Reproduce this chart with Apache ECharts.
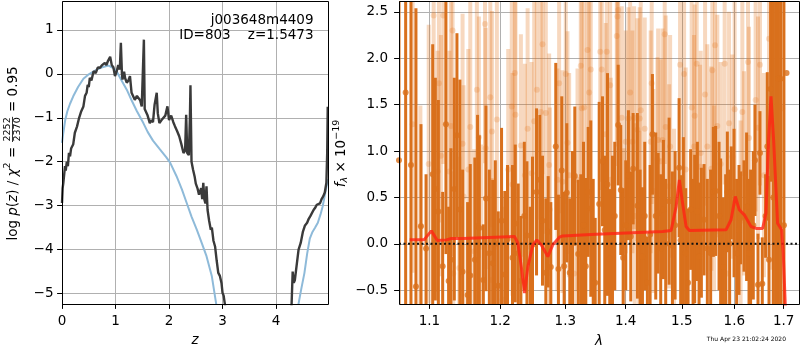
<!DOCTYPE html>
<html>
<head>
<meta charset="utf-8">
<script src="https://cdn.jsdelivr.net/npm/echarts@6.0.0/dist/echarts.min.js"></script>
<style>
html,body{margin:0;padding:0;background:#fff;}
#chart{width:800px;height:350px;}
</style>
</head>
<body>
<div id="chart"></div>
<script>
// ---------- left panel: log p(z) ----------
const pzZ = [0.000,0.012,0.025,0.04,0.056,0.07,0.09,0.11,0.13,0.15,
0.17,0.21,0.24,0.28,0.32,0.36,0.40,0.43,0.46,0.48,
0.50,0.52,0.55,0.59,0.63,0.67,0.71,0.75,0.80,0.83,
0.86,0.90,0.93,0.96,0.99,1.02,1.05,1.08,1.10,1.12,
1.13,1.16,1.18,1.21,1.24,1.27,1.30,1.33,1.36,1.40,
1.43,1.46,1.49,1.52,1.53,1.545,1.56,1.60,1.64,1.67,
1.70,1.73,1.77,1.79,1.82,1.86,1.89,1.93,1.97,2.00,
2.04,2.08,2.11,2.15,2.19,2.23,2.27,2.30,2.32,2.34,
2.37,2.39,2.40,2.42,2.45,2.48,2.50,2.53,2.56,2.58,
2.60,2.62,2.64,2.66,2.68,2.70,2.72,2.75,2.78,2.80,
2.83,2.86,2.89,2.92,2.95,2.98,3.00,3.02,3.05,3.08,
3.15,4.20,4.29,4.31,4.33,4.35,4.38,4.42,4.46,4.50,
4.54,4.58,4.61,4.64,4.67,4.70,4.73,4.76,4.79,4.82,
4.85,4.88,4.91,4.94,4.955,4.965];
const pzLogP = [-2.94,-2.6,-2.48,-2.3,-2.1,-2.2,-2.0,-2.1,-1.8,-1.88,
-1.7,-1.6,-1.34,-1.2,-1.0,-0.85,-0.74,-0.5,-0.43,-0.25,
-0.3,-0.09,-0.15,0.06,0.02,0.15,0.14,0.2,0.25,0.2,
0.3,0.39,0.2,0.15,-0.05,0.05,0.2,0.1,0.71,0.0,
-0.13,0.05,-0.1,-0.2,-0.15,-0.05,-0.43,-0.4,-0.59,-0.5,
-0.51,-0.6,-0.74,-0.7,0.78,-0.8,-0.81,-0.95,-1.12,-1.05,
-1.1,-0.7,-0.43,-0.9,-1.12,-1.05,-1.05,-0.95,-0.74,-1.05,
-0.95,-1.1,-1.19,-1.3,-1.42,-1.6,-1.8,-1.75,-0.93,-1.8,
-1.85,-1.0,-0.26,-2.0,-2.19,-2.35,-2.5,-2.6,-2.75,-2.79,
-2.6,-2.85,-2.48,-2.86,-2.95,-2.56,-3.1,-3.35,-3.55,-3.5,
-3.8,-3.93,-4.25,-4.53,-4.6,-4.76,-4.99,-5.05,-5.3,-5.8,
-6.6,-6.6,-5.24,-4.5,-4.76,-4.7,-4.4,-4.0,-3.85,-3.6,
-3.45,-3.39,-3.3,-3.24,-3.2,-3.1,-3.05,-2.98,-2.94,-2.95,
-2.85,-2.79,-2.7,-2.48,-1.8,-0.75];
const chiZ = [0.00,0.025,0.06,0.10,0.15,0.21,0.30,0.40,0.50,0.65,
0.75,0.87,0.95,1.02,1.10,1.21,1.30,1.40,1.52,1.60,
1.70,1.83,1.95,2.02,2.14,2.24,2.33,2.42,2.52,2.61,
2.70,2.80,2.88,2.95,3.05,4.30,4.42,4.47,4.53,4.58,
4.63,4.68,4.73,4.78,4.83,4.87,4.92,4.97];
const chiLogP = [-1.57,-1.34,-1.05,-0.85,-0.68,-0.51,-0.3,-0.11,-0.01,0.1,
0.15,0.19,0.14,0.06,-0.12,-0.36,-0.6,-0.85,-1.12,-1.32,
-1.52,-1.72,-1.9,-2.02,-2.33,-2.63,-2.94,-3.25,-3.55,-3.85,
-4.15,-4.61,-5.23,-5.8,-6.6,-6.6,-5.23,-4.9,-4.53,-4.1,
-3.75,-3.6,-3.5,-3.39,-3.2,-3.02,-2.7,-2.4];
const zTicks = [0,1,2,3,4];
const logpTicks = [-5,-4,-3,-2,-1,0,1];

// ---------- right panel: spectrum ----------
const spec1Lam = [1.0597,1.0684,1.0754,1.0820,1.0887,1.0955,1.1045,1.1081,1.1122,1.1181,
1.1226,1.1263,1.1295,1.1342,1.1379,1.1420,1.1458,1.1529,1.1567,1.1632,
1.1671,1.1696,1.1754,1.1792,1.1841,1.1889,1.1928,1.1971,1.2020,1.2068,
1.2108,1.2183,1.2224,1.2269,1.2309,1.2361,1.2401,1.2451,1.2486,1.2548,
1.2599,1.2640,1.2692,1.2729,1.2770,1.2848,1.2890,1.2943,1.2981,1.3023,
1.3071,1.3115,1.3152,1.3207,1.3249,1.3293,1.3331,1.3370,1.3413,1.3453,
1.3486,1.3552,1.3607,1.3645,1.3691,1.3729,1.3775,1.3814,1.3872,1.3916,
1.3957,1.4002,1.4048,1.4088,1.4129,1.4204,1.4251,1.4292,1.4332,1.4379,
1.4427,1.4468,1.4527,1.4570,1.4616,1.4665,1.4706,1.4768,1.4828,1.4877,
1.4950,1.4979,1.5029,1.5072,1.5116,1.5164,1.5209,1.5239,1.5290,1.5321,
1.5365,1.5416,1.5478,1.5541,1.5593,1.5637,1.5702,1.5733,1.5786,1.5830,
1.5863,1.5908,1.5941,1.5994,1.6045,1.6092,1.6124,1.6192,1.6243,1.6291,
1.6323,1.6377,1.6411,1.6472,1.6512,1.6559,1.6626,1.6661,1.6696,1.6729,
1.6784,1.6832,1.6887,1.6935,1.7005,1.7060];
const spec1Flux = [0.90,1.63,0.85,-0.46,0.19,-0.05,0.75,0.59,0.35,-0.24,
1.29,-0.40,-0.17,0.59,1.17,0.37,-0.30,-0.55,-0.34,-0.17,
0.19,0.17,-0.39,0.49,-0.10,-0.21,0.00,-0.45,0.25,-0.33,
0.05,-0.15,0.22,-0.10,-0.40,0.30,0.09,-0.20,-0.01,0.56,
0.69,0.25,-0.31,0.13,-0.25,1.05,-0.27,0.79,-0.24,0.55,
-0.31,0.10,0.73,-0.11,0.05,0.20,-0.24,0.56,0.38,0.00,
-0.42,0.43,0.89,0.15,0.64,-0.16,0.05,0.30,1.28,0.58,
-0.15,0.20,0.74,0.08,0.81,0.41,0.00,-0.14,0.30,-0.42,
0.10,1.18,0.30,0.33,-0.05,0.37,0.00,0.46,-0.02,0.20,
0.82,0.04,0.25,-0.10,-0.42,0.37,0.00,0.16,0.35,-0.14,
0.12,0.26,-0.05,-0.10,0.56,0.57,0.30,0.12,-0.25,-0.05,
0.56,0.00,0.55,0.44,-0.10,0.15,0.28,0.30,0.40,-0.10,
0.00,0.20,0.90,-0.44,0.98,-0.43,0.30,1.05,-0.17,1.67,
0.50,0.78,1.78,1.78,0.20,1.84];
const spec1Err = [3.0,2.5,2.5,3.0,1.1,0.8,1.4,1.2,1.2,0.8,
1.4,0.8,1.2,1.2,1.1,1.4,1.1,1.0,1.2,1.1,
1.2,1.0,0.6,1.0,0.9,0.9,0.9,0.8,1.0,0.9,
0.8,1.0,0.85,0.75,0.7,0.8,0.8,0.6,0.95,0.9,
0.7,0.7,0.8,0.6,0.7,0.9,0.8,0.8,0.8,0.75,
0.8,0.9,0.75,0.8,0.7,0.9,0.95,0.7,0.95,0.7,
0.7,1.1,0.7,0.8,1.2,0.75,0.9,0.8,0.65,0.7,
0.75,0.7,0.7,0.7,0.6,1.0,0.8,0.75,0.8,0.5,
0.75,0.65,0.9,0.65,0.8,0.75,0.7,0.9,0.8,0.8,
0.75,0.7,0.9,0.7,0.8,0.65,0.7,0.8,0.75,0.8,
0.7,0.6,0.75,0.9,0.7,0.7,0.8,0.8,0.75,0.8,
0.65,0.8,0.5,0.8,0.8,0.7,0.5,0.6,0.8,0.8,
0.8,0.8,0.6,0.55,0.45,0.5,0.45,0.8,0.9,1.0,
2.5,2.5,2.5,2.5,2.8,0.0];

const spec2Lam = [1.0776,1.0879,1.0991,1.1058,1.1112,1.1130,1.1157,1.1190,1.1273,1.1295,
1.1318,1.1328,1.1411,1.1458,1.1472,1.1539,1.1567,1.1623,1.1661,1.1690,
1.1720,1.1778,1.1788,1.1855,1.1874,1.1879,1.1951,1.2035,1.2119,1.2172,
1.2183,1.2218,1.2228,1.2309,1.2370,1.2411,1.2471,1.2512,1.2553,1.2614,
1.2640,1.2692,1.2744,1.2754,1.2874,1.2901,1.2954,1.3007,1.3034,1.3061,
1.3141,1.3196,1.3249,1.3261,1.3266,1.3305,1.3359,1.3386,1.3413,1.3569,
1.3595,1.3662,1.3679,1.3736,1.3746,1.3848,1.3860,1.3872,1.3933,1.3974,
1.4002,1.4048,1.4077,1.4117,1.4146,1.4157,1.4204,1.4234,1.4244,1.4262,
1.4332,1.4437,1.4455,1.4484,1.4557,1.4570,1.4616,1.4647,1.4688,1.4706,
1.4768,1.4786,1.4858,1.4968,1.5042,1.5072,1.5183,1.5227,1.5239,1.5277,
1.5340,1.5352,1.5435,1.5478,1.5554,1.5573,1.5606,1.5625,1.5669,1.5733,
1.5811,1.5863,1.5896,1.5961,1.6006,1.6124,1.6158,1.6192,1.6271,1.6291,
1.6424,1.6472,1.6512,1.6593,1.6696,1.6763,1.6887,1.6969];
const spec2Flux = [1.29,0.19,0.86,2.46,0.78,1.73,0.95,2.46,0.78,1.27,
2.30,-0.32,-0.26,1.08,0.51,0.80,1.26,-0.08,1.66,1.15,
-0.03,2.37,1.03,1.58,-0.39,1.21,1.34,-0.60,0.80,1.48,
0.64,1.84,1.39,1.06,0.74,1.24,0.76,1.32,1.66,1.42,
2.15,1.41,0.85,0.37,0.69,1.73,0.67,1.83,1.09,0.74,
-0.32,0.69,1.92,-0.59,1.46,1.47,2.09,1.63,1.88,2.07,
1.88,1.18,2.07,1.71,0.69,2.24,2.45,2.52,1.36,0.03,
1.10,1.35,1.63,1.10,1.36,0.30,1.23,0.22,1.35,1.44,
1.24,1.10,1.73,0.57,0.91,1.12,0.89,1.12,2.26,1.26,
0.62,1.05,0.24,1.93,1.83,0.80,1.47,1.05,1.38,1.94,
0.83,0.98,1.61,1.05,0.81,1.87,0.49,2.14,1.27,0.86,
1.94,-0.32,1.30,0.94,1.45,0.33,1.42,0.76,1.96,1.14,
1.55,1.25,1.93,0.74,2.21,0.82,0.69,1.46];
const spec2Err = [1.6,1.3,1.5,1.6,1.3,1.5,1.3,1.6,1.3,1.4,
1.5,1.1,1.2,1.4,1.2,1.3,1.4,1.1,1.4,1.3,
1.1,1.5,1.3,1.4,1.1,1.3,1.4,1.0,1.3,1.4,
1.2,1.4,1.3,1.2,1.2,1.3,1.2,1.3,1.4,1.3,
1.4,1.3,1.2,1.1,1.2,1.4,1.2,1.4,1.2,1.1,
1.0,1.2,1.4,0.9,1.2,1.3,1.4,1.3,1.4,1.4,
1.3,1.2,1.4,1.3,1.1,1.4,1.4,1.4,1.2,1.0,
1.2,1.2,1.3,1.2,1.2,1.0,1.2,1.0,1.2,1.2,
1.2,1.2,1.3,1.1,1.1,1.2,1.1,1.2,1.4,1.2,
1.1,1.2,1.0,1.3,1.3,1.1,1.2,1.2,1.2,1.3,
1.1,1.1,1.2,1.1,1.1,1.3,1.0,1.4,1.2,1.1,
1.3,1.0,1.2,1.1,1.2,1.0,1.2,1.1,1.3,1.2,
1.2,1.2,1.3,1.1,1.4,1.1,1.1,1.2];

const modelLam = [1.0737,1.0927,1.1027,1.1108,1.1232,1.1301,1.1464,1.2213,1.2264,1.2315,
1.2365,1.2415,1.2491,1.2553,1.2620,1.2723,1.2801,1.2906,1.2959,1.3502,
1.4652,1.4804,1.4895,1.4955,1.5005,1.5079,1.5140,1.5838,1.5935,1.6019,
1.6098,1.6197,1.6331,1.6432,1.6565,1.6634,1.6688,1.6737,1.6791,1.6873,
1.6956,1.6991,1.7033,1.7060];
const modelFlux = [0.043,0.043,0.14,0.036,0.043,0.058,0.058,0.079,0.007,-0.245,
-0.53,-0.245,-0.01,0.043,-0.01,-0.137,-0.01,0.072,0.086,0.104,
0.133,0.144,0.40,0.69,0.475,0.187,0.144,0.151,0.26,0.511,
0.367,0.313,0.187,0.166,0.166,0.33,1.12,1.59,1.12,0.223,
0.151,-0.1,-0.65,-1.5];
const lamTicks = [1.1,1.2,1.3,1.4,1.5,1.6,1.7];
const fluxTicks = [-0.5,0,0.5,1,1.5,2,2.5];

const zRange = [0, 4.97], logpRange = [-5.24, 1.66];
const lamRange = [1.0597, 1.7323], fluxRange = [-0.648, 2.617];

// ---------- layout / style ----------
const FONT = '"DejaVu Sans", "Liberation Sans", sans-serif';
const L = {left:62, top:1, width:266, height:303};
const R = {left:399, top:1, width:400, height:303};
const DARK = '#d9701c';
const FAINT = 'rgba(225,110,20,0.27)';
const MINUS = '\u2212';
const signed = (s, v) => (v < 0 ? MINUS : '') + s;

function axisStyle(ticks, fmt, margin) {
  return {
    axisLine: {show: false, onZero: false},
    axisTick: {show: true, inside: false, length: 4.9, customValues: ticks, lineStyle: {color: '#000', width: 1}},
    axisLabel: {show: true, customValues: ticks, formatter: fmt, margin: margin, color: '#000',
                fontSize: 13.5, fontFamily: FONT, hideOverlap: false},
    splitLine: {show: true, lineStyle: {color: '#b0b0b0', width: 1}}
  };
}
const pair = (xs, ys, fx) => xs.map((x, i) => [fx ? fx(x) : x, ys[i]]);
const tri = (xs, ys, es) => xs.map((x, i) => [Math.log(x), ys[i], es[i]]);

function errBar(color, w) {
  return function (params, api) {
    const x = api.value(0), y = api.value(1), e = api.value(2);
    if (!(e > 0)) return null;
    const a = api.coord([x, y + e]), b = api.coord([x, y - e]);
    const cs = params.coordSys;
    const r = echarts.graphic.clipRectByRect(
      {x: a[0] - w / 2, y: a[1], width: w, height: b[1] - a[1]},
      {x: cs.x, y: cs.y, width: cs.width, height: cs.height});
    if (!r) return null;
    return {type: 'rect', shape: r, style: {fill: color}};
  };
}

// text measurement for rotated mathtext-like labels
const mctx = document.createElement('canvas').getContext('2d');
function textW(t, size, it) {
  mctx.font = (it ? 'italic ' : '') + size + 'px ' + FONT;
  return mctx.measureText(t).width;
}
function tstyle(text, size, it, align) {
  return {text: text, font: (it ? 'italic ' : '') + size + 'px ' + FONT, fill: '#000',
          align: align, textAlign: align, verticalAlign: 'middle', textVerticalAlign: 'middle'};
}
function vLabel(cx, cy, pieces) {
  let x = 0;
  const kids = [];
  pieces.forEach(p => {
    if (p.num) {
      const w = Math.max(textW(p.num, p.size), textW(p.den, p.size)) + 2;
      kids.push({type: 'text', x: x + w / 2, y: p.dyN, z: 100, style: tstyle(p.num, p.size, false, 'center')});
      kids.push({type: 'text', x: x + w / 2, y: p.dyD, z: 100, style: tstyle(p.den, p.size, false, 'center')});
      kids.push({type: 'line', z: 100, shape: {x1: x + 0.5, y1: p.dyBar, x2: x + w - 0.5, y2: p.dyBar},
                 style: {stroke: '#000', lineWidth: 0.8}});
      x += w;
    } else {
      const size = p.size || 13.5;
      const w = textW(p.t, size, p.it);
      kids.push({type: 'text', x: x, y: p.dy || 0, z: 100, style: tstyle(p.t, size, p.it, 'left')});
      x += w;
    }
  });
  kids.forEach(k => {
    if (k.type === 'line') { k.shape.x1 -= x / 2; k.shape.x2 -= x / 2; } else { k.x -= x / 2; }
  });
  return {type: 'group', x: cx, y: cy, rotation: Math.PI / 2, z: 100, children: kids};
}
function frame(g) {
  return {type: 'rect', z: 100, silent: true,
          shape: {x: g.left + 0.5, y: g.top + 0.5, width: g.width, height: g.height},
          style: {fill: 'none', stroke: '#000', lineWidth: 1}};
}
function label(x, y, text, size, it, align) {
  return {type: 'text', x: x, y: y, z: 100, silent: true, style: tstyle(text, size, it, align)};
}

const leftPieces = [
  {t: 'log '}, {t: 'p', it: true}, {t: '('}, {t: 'z', it: true}, {t: ') / '},
  {t: '\u03c7', it: true}, {t: '2', size: 9.5, dy: -5}, {t: ' = '},
  {num: '2252', den: '2370', size: 9.5, dyN: -5, dyD: 4.5, dyBar: -0.5},
  {t: ' = 0.95'}
];
const rightPieces = [
  {t: 'f', it: true}, {t: '\u03bb', it: true, size: 9.5, dy: 3},
  {t: ' \u00d7 10'}, {t: MINUS + '19', size: 9.5, dy: -5}
];

const chart = echarts.init(document.getElementById('chart'), null, {renderer: 'canvas'});
chart.setOption({
  animation: false,
  backgroundColor: '#fff',
  grid: [
    {left: L.left, top: L.top, width: L.width, height: L.height},
    {left: R.left, top: R.top, width: R.width, height: R.height}
  ],
  xAxis: [
    Object.assign({type: 'value', gridIndex: 0, position: 'bottom', min: zRange[0], max: zRange[1]},
      axisStyle(zTicks, v => String(Math.round(v)), 10)),
    Object.assign({type: 'value', gridIndex: 1, position: 'bottom', min: Math.log(lamRange[0]), max: Math.log(lamRange[1])},
      axisStyle(lamTicks.map(Math.log), v => Math.exp(v).toFixed(1), 10))
  ],
  yAxis: [
    Object.assign({type: 'value', gridIndex: 0, position: 'left', min: logpRange[0], max: logpRange[1]},
      axisStyle(logpTicks, v => signed(String(Math.abs(Math.round(v))), v), 8.5)),
    Object.assign({type: 'value', gridIndex: 1, position: 'left', min: fluxRange[0], max: fluxRange[1]},
      axisStyle(fluxTicks, v => signed(Math.abs(v).toFixed(1), v), 11))
  ],
  series: [
    {type: 'line', xAxisIndex: 0, yAxisIndex: 0, data: pair(chiZ, chiLogP), symbol: 'none',
     lineStyle: {color: '#8ebad9', width: 2}, z: 2, silent: true},
    {type: 'line', xAxisIndex: 0, yAxisIndex: 0, data: pair(pzZ, pzLogP), symbol: 'none',
     lineStyle: {color: '#3a3a3a', width: 2.4}, z: 3, silent: true},
    {type: 'custom', xAxisIndex: 1, yAxisIndex: 1, renderItem: errBar(FAINT, 4),
     data: tri(spec2Lam, spec2Flux, spec2Err), encode: {x: 0, y: 1}, z: 2, silent: true},
    {type: 'scatter', xAxisIndex: 1, yAxisIndex: 1, data: pair(spec2Lam, spec2Flux, Math.log),
     symbolSize: 6, itemStyle: {color: FAINT}, z: 2, silent: true},
    {type: 'custom', xAxisIndex: 1, yAxisIndex: 1, renderItem: errBar(DARK, 3),
     data: tri(spec1Lam, spec1Flux, spec1Err), encode: {x: 0, y: 1}, z: 3, silent: true},
    {type: 'scatter', xAxisIndex: 1, yAxisIndex: 1, data: pair(spec1Lam, spec1Flux, Math.log),
     symbolSize: 6, itemStyle: {color: DARK}, z: 3, silent: true},
    {type: 'line', xAxisIndex: 1, yAxisIndex: 1,
     data: [[Math.log(lamRange[0]), 0], [Math.log(lamRange[1]), 0]], symbol: 'none',
     lineStyle: {color: '#111', width: 2, type: [2, 2.5]}, z: 4, silent: true},
    {type: 'line', xAxisIndex: 1, yAxisIndex: 1, data: pair(modelLam, modelFlux, Math.log), symbol: 'none',
     lineStyle: {color: 'rgba(255,35,20,0.8)', width: 3}, z: 5, silent: true}
  ],
  graphic: [
    frame(L), frame(R),
    vLabel(13, 153.5, leftPieces),
    vLabel(341.5, 153.5, rightPieces),
    label(313.5, 20.5, 'j003648m4409', 13.5, false, 'right'),
    label(313.5, 35, 'ID=803    z=1.5473', 13.5, false, 'right'),
    label(L.left + L.width / 2, 340, 'z', 13.5, true, 'center'),
    label(R.left + R.width / 2, 341, '\u03bb', 13.5, true, 'center'),
    label(786, 339.5, 'Thu Apr 23 21:02:24 2020', 6, false, 'right')
  ]
});
</script>
</body>
</html>
